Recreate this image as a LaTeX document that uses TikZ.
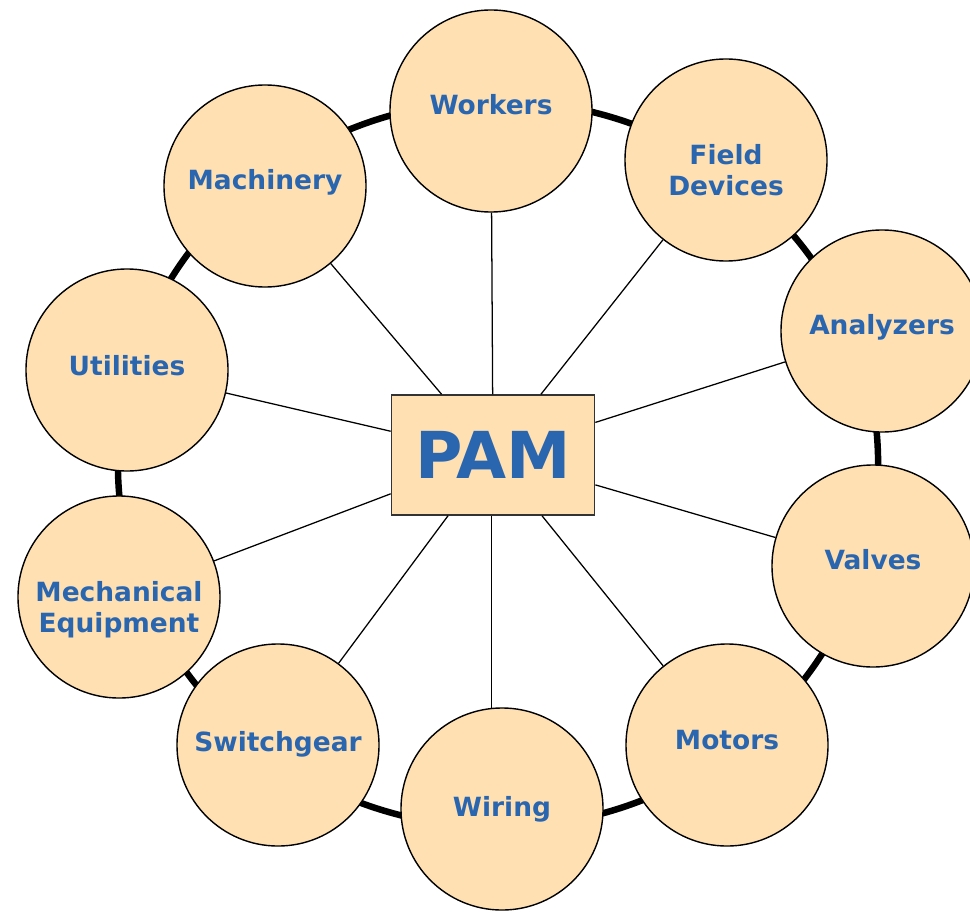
\documentclass[tikz,border=0pt]{standalone}
\usepackage{fontspec}
\setmainfont{DejaVu Sans}
\definecolor{peach}{RGB}{254,224,178}
\definecolor{pamblue}{RGB}{42,102,176}

\begin{document}
\begin{tikzpicture}[x=0.025cm,y=-0.025cm,
    unit/.style={circle,draw,line width=1pt,fill=peach,minimum size=5.05cm,
        inner sep=0pt},
    txt/.style={align=center,text=pamblue,inner sep=0pt,
        font=\fontsize{18.8}{22.5}\selectfont\bfseries},
    hub/.style={rectangle,draw=black!80,line width=1pt,fill=peach,
        minimum width=5.08cm,minimum height=3cm,text=pamblue,
        font=\fontsize{46}{50}\selectfont\bfseries},
    ring/.style={line width=4.6pt},
    spoke/.style={line width=0.9pt}]
    \useasboundingbox (0,0) rectangle (970,912);
    % outer ring
    \draw[ring] (498,464) ellipse [x radius=9.5cm, y radius=9.08cm];
    \node[hub]  (pam)        at (493,455)
        {\raisebox{-0.12cm}{PAM}};
    \node[unit] (workers)    at (491,111) [label={[txt,yshift=0.17cm]center:Workers}] {};
    \node[unit] (field)      at (726,160) [label={[txt,yshift=-0.25cm]center:Field\\Devices}] {};
    \node[unit] (analyzers)  at (882,331) [label={[txt,yshift=0.08cm]center:Analyzers}] {};
    \node[unit] (valves)     at (873,566) [label={[txt,yshift=0.15cm]center:Valves}] {};
    \node[unit] (motors)     at (727,745) [label={[txt,yshift=0.12cm]center:Motors}] {};
    \node[unit] (wiring)     at (502,809) [label={[txt,yshift=0cm]center:Wiring}] {};
    \node[unit] (switchgear) at (278,745) [label={[txt,yshift=0.02cm]center:Switchgear}] {};
    \node[unit] (mechanical) at (119,597) [label={[txt,yshift=-0.32cm]center:Mechanical\\Equipment}] {};
    \node[unit] (utilities)  at (127,370) [label={[txt,yshift=0.1cm]center:Utilities}] {};
    \node[unit] (machinery)  at (265,186) [label={[txt,yshift=0.08cm]center:Machinery}] {};
    \path[spoke] (pam)  edge (workers)
                 (pam)  edge (field)
                 (pam)  edge (analyzers)
                 (pam)  edge (valves)
                 (pam)  edge (motors)
                 (pam)  edge (switchgear)
                 (pam)  edge (mechanical)
                 (pam)  edge (utilities)
                 (pam)  edge (machinery)
                 (wiring.96) edge (wiring.96 |- pam.south)
                 ;
\end{tikzpicture}
\end{document}
